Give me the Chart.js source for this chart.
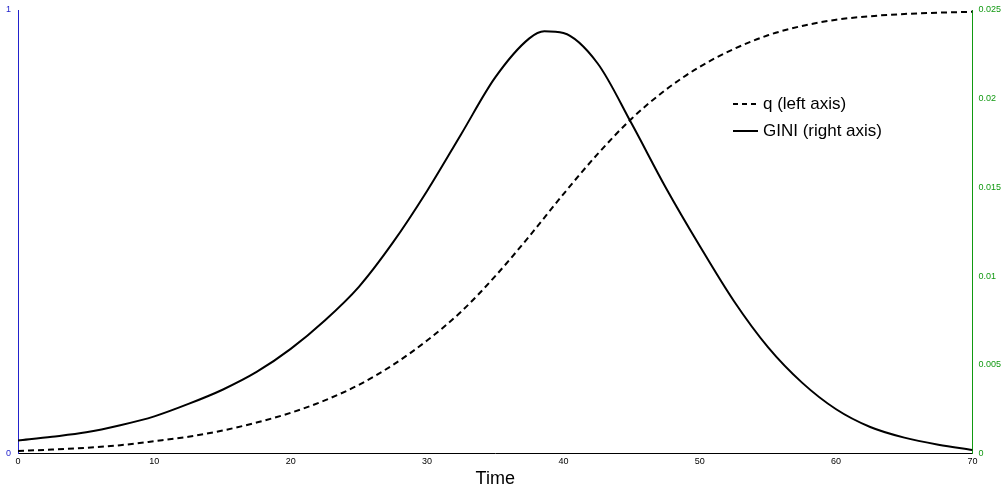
<!DOCTYPE html>
<html><head><script src="https://cdn.jsdelivr.net/npm/chart.js@4"></script>
<style>body{margin:0;background:#fff}#w{width:1005px;height:491px}</style></head>
<body><div id="w"><canvas id="c"></canvas></div>
<script>
const qTime=[0,2.5,5,7.5,10,12.5,15,17.5,20,22.5,25,27.5,30,32.5,35,37.5,40,42.5,45,47.5,50,52.5,55,57.5,60,62.5,65,67.5,70];
const qValues=[.006,.009,.013,.019,.028,.038,.052,.07,.092,.12,.155,.2,.255,.32,.4,.49,.585,.675,.755,.82,.872,.912,.943,.964,.978,.986,.991,.994,.996];
const giniTime=[0,2.5,5,7.5,10,12.5,15,17.5,20,22.5,25,27.5,30,32.5,35,37.5,38.6,40,42.5,45,47.5,50,52.5,55,57.5,60,62.5,65,67.5,70];
const giniValues=[.00074,.00095,.0012,.0016,.0021,.0028,.0036,.0046,.0059,.0075,.0094,.0119,.0148,.0180,.0212,.0234,.0238,.0237,.0220,.0186,.0150,.0117,.0086,.0060,.0040,.0025,.0015,.0009,.0005,.0002];
const xTicks=[0,10,20,30,40,50,60,70];
const leftTicks=[0,1];
const rightTicks=[0,0.005,0.01,0.015,0.02,0.025];
const F='"Liberation Sans", Arial, sans-serif';
const legendPlugin={id:'lg',afterDraw(ch){const c=ch.ctx;c.save();c.strokeStyle='#000';c.lineWidth=2;c.fillStyle='#000';c.font='17px '+F;c.textBaseline='middle';
const x=733,y1=104,y2=131;
c.setLineDash([5,4]);c.beginPath();c.moveTo(x,y1);c.lineTo(x+25,y1);c.stroke();
c.setLineDash([]);c.beginPath();c.moveTo(x,y2);c.lineTo(x+25,y2);c.stroke();
c.fillText('q (left axis)',x+30,y1);c.fillText('GINI (right axis)',x+30,y2);c.restore();}};
new Chart(document.getElementById('c'),{type:'line',
data:{datasets:[
{label:'q (left axis)',data:qTime.map((t,i)=>({x:t,y:qValues[i]})),yAxisID:'yL',borderColor:'#000',borderWidth:2,borderDash:[6,4],pointRadius:0,cubicInterpolationMode:'monotone'},
{label:'GINI (right axis)',data:giniTime.map((t,i)=>({x:t,y:giniValues[i]})),yAxisID:'yR',borderColor:'#000',borderWidth:2,pointRadius:0,cubicInterpolationMode:'monotone'}]},
options:{responsive:true,maintainAspectRatio:false,animation:false,layout:{padding:{top:10,right:2,left:4,bottom:1}},
plugins:{legend:{display:false},tooltip:{enabled:false}},
scales:{
x:{type:'linear',min:0,max:70,afterBuildTicks:a=>{a.ticks=xTicks.map(v=>({value:v}))},grid:{display:false,drawTicks:true,tickLength:2},border:{color:'#000',width:1},
ticks:{color:'#000',font:{size:9,family:F},padding:1,maxRotation:0,autoSkip:false},title:{display:true,text:'Time',font:{size:18,family:F},color:'#000',padding:{top:0,bottom:0}}},
yL:{position:'left',min:0,max:1,afterBuildTicks:a=>{a.ticks=leftTicks.map(v=>({value:v}))},grid:{display:false,tickLength:5},border:{color:'#2222cc'},
ticks:{color:'#2222cc',font:{size:9,family:F},padding:2}},
yR:{position:'right',min:0,max:0.025,afterBuildTicks:a=>{a.ticks=rightTicks.map(v=>({value:v}))},grid:{display:false,tickLength:4},border:{color:'#119911'},
ticks:{color:'#119911',font:{size:9,family:F},padding:2,callback:v=>String(+v.toFixed(3))}}}},
plugins:[legendPlugin]});
</script></body></html>
